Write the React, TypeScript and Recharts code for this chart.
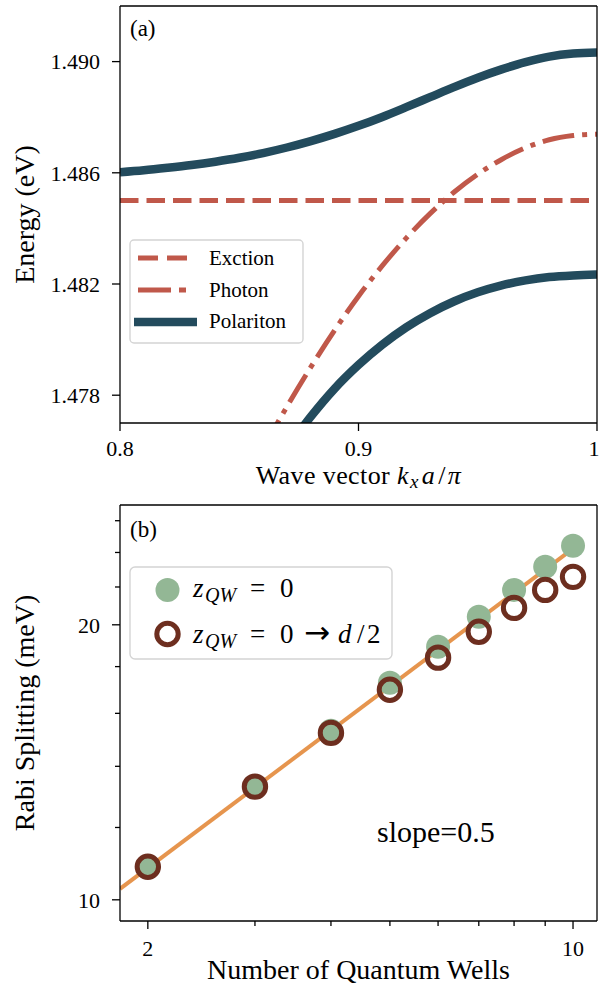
import { LineChart, ComposedChart, Line, Scatter, XAxis, YAxis, ReferenceLine, Customized } from 'recharts';

const FONT = '"Liberation Serif", "DejaVu Serif", serif';
const RED = '#c0584a';
const NAVY = '#234b5d';
const GREEN = '#93b795';
const BROWN = '#6d2e1f';
const ORANGE = '#e6954e';

// (a) band energies near the zone edge
const K = [0.8, 0.81, 0.82, 0.83, 0.84, 0.85, 0.86, 0.87, 0.88, 0.89, 0.9, 0.91, 0.92, 0.93, 0.94, 0.95, 0.96, 0.97, 0.98, 0.99, 1.0];
const EXCITON = [1.485, 1.485, 1.485, 1.485, 1.485, 1.485, 1.485, 1.485, 1.485, 1.485, 1.485, 1.485, 1.485, 1.485, 1.485, 1.485, 1.485, 1.485, 1.485, 1.485, 1.485];
const PHOTON = [null, null, null, null, null, null, 1.47609, 1.47759, 1.47901, 1.48034, 1.48156, 1.48266, 1.48365, 1.48453, 1.4853, 1.48595, 1.48648, 1.4869, 1.48719, 1.48734, 1.48739];
const UPPER = [1.48602, 1.48609, 1.48618, 1.48628, 1.4864, 1.48654, 1.48671, 1.48691, 1.48714, 1.4874, 1.48769, 1.48801, 1.48836, 1.48872, 1.48908, 1.48942, 1.48972, 1.48998, 1.49018, 1.49029, 1.49033];
const LOWER = [null, null, null, null, null, null, null, 1.47608, 1.47723, 1.47824, 1.47909, 1.47982, 1.48044, 1.48095, 1.48137, 1.4817, 1.48195, 1.48213, 1.48225, 1.48231, 1.48234];
const K_TICKS = [0.8, 0.9, 1];
const E_TICKS = [1.478, 1.482, 1.486, 1.49];

// (b) Rabi splitting vs number of wells
const N_WELLS = [2, 3, 4, 5, 6, 7, 8, 9, 10];
const SPLIT_CENTER = [10.87, 13.3, 15.31, 17.28, 18.92, 20.41, 21.84, 23.15, 24.41];
const SPLIT_SPREAD = [10.87, 13.3, 15.23, 16.98, 18.41, 19.65, 20.87, 21.84, 22.57];
const FIT_N = [1.8, 10];
const FIT_SPLIT = [10.28, 24.23];
const N_TICKS = [2, 3, 4, 5, 6, 7, 8, 9, 10];
const N_LABELED = [2, 10];
const S_TICKS = [10, 12, 14, 16, 18, 20, 22, 24, 26];
const S_LABELED = [10, 20];

const AXIS = { stroke: '#000', strokeWidth: 1.3 };

const xTickA = ({ x, y, payload }: any) => {
  const last = payload.value === 1;
  return (
    <g>
      <line x1={x} x2={x} y1={y} y2={y + 8} stroke="#000" strokeWidth={1.3} />
      {/* the last label sits on the page edge; nudge it in so it isn't clipped */}
      <text x={last ? x - 3 : x} y={y + 33} textAnchor="middle" fontFamily={FONT} fontSize={22} fill="#000">
        {last ? '1' : payload.value.toFixed(1)}
      </text>
    </g>
  );
};

const yTickA = ({ x, y, payload }: any) => (
  <g>
    <line x1={x - 8} x2={x} y1={y} y2={y} stroke="#000" strokeWidth={1.3} />
    <text x={x - 20} y={y} dy="0.35em" textAnchor="end" fontFamily={FONT} fontSize={22} fill="#000">
      {payload.value.toFixed(3)}
    </text>
  </g>
);

const xTickB = ({ x, y, payload }: any) => {
  const major = N_LABELED.includes(payload.value);
  return (
    <g>
      <line x1={x} x2={x} y1={y} y2={y + (major ? 8 : 5)} stroke="#000" strokeWidth={1.3} />
      {major && (
        <text x={x} y={y + 35} textAnchor="middle" fontFamily={FONT} fontSize={22} fill="#000">
          {payload.value}
        </text>
      )}
    </g>
  );
};

const yTickB = ({ x, y, payload }: any) => {
  const major = S_LABELED.includes(payload.value);
  return (
    <g>
      <line x1={x - (major ? 8 : 5)} x2={x} y1={y} y2={y} stroke="#000" strokeWidth={1.3} />
      {major && (
        <text x={x - 20} y={y} dy="0.35em" textAnchor="end" fontFamily={FONT} fontSize={22} fill="#000">
          {payload.value}
        </text>
      )}
    </g>
  );
};

const PanelAExtras = () => (
  <g fontFamily={FONT} fill="#000">
    <text x={130} y={36} fontSize={23}>(a)</text>
    <rect x={130} y={240} width={173} height={103} rx={4} fill="#fff" fillOpacity={0.85} stroke="#d4d4d4" strokeWidth={1.4} />
    <line x1={138} x2={187} y1={258} y2={258} stroke={RED} strokeWidth={5} strokeDasharray="20 9" />
    <line x1={138} x2={187} y1={290} y2={290} stroke={RED} strokeWidth={5} strokeDasharray="33 8 7 8" />
    <line x1={134} x2={197} y1={322} y2={322} stroke={NAVY} strokeWidth={8.5} />
    <text x={209} y={265} fontSize={21}>Exction</text>
    <text x={209} y={297} fontSize={21}>Photon</text>
    <text x={209} y={328} fontSize={21}>Polariton</text>
    <text x={358.5} y={484} textAnchor="middle" fontSize={26} letterSpacing={0.4}>
      Wave vector <tspan fontStyle="italic">k</tspan>
      <tspan fontStyle="italic" fontSize={19} dy={4} dx={1}>x</tspan>
      <tspan fontStyle="italic" dy={-4} dx={3}>a</tspan>
      <tspan dx={3}>/</tspan>
      <tspan fontStyle="italic" dx={2}>π</tspan>
    </text>
    <text transform="rotate(-90)" x={-214.5} y={34} textAnchor="middle" fontSize={28}>Energy (eV)</text>
  </g>
);

// panel (b) svg starts 495px down the page
const PanelBExtras = () => (
  <g fontFamily={FONT} fill="#000">
    <text x={130} y={42} fontSize={23}>(b)</text>
    <rect x={130} y={72} width={262} height={92} rx={5} fill="#fff" fillOpacity={0.85} stroke="#d4d4d4" strokeWidth={1.4} />
    <circle cx={167.5} cy={95} r={12} fill={GREEN} />
    <circle cx={167.5} cy={139} r={10.7} fill="none" stroke={BROWN} strokeWidth={5} />
    <text y={102} fontSize={27}>
      <tspan x={193} fontStyle="italic">z</tspan>
      <tspan x={205} fontStyle="italic" fontSize={20} dy={5}>QW</tspan>
      <tspan x={250} dy={-5}>=</tspan>
      <tspan x={280}>0</tspan>
    </text>
    <text y={148} fontSize={27}>
      <tspan x={193} fontStyle="italic">z</tspan>
      <tspan x={205} fontStyle="italic" fontSize={20} dy={5}>QW</tspan>
      <tspan x={250} dy={-5}>=</tspan>
      <tspan x={280}>0</tspan>
      <tspan x={304} fontFamily='"DejaVu Sans", sans-serif' fontSize={31}>→</tspan>
      <tspan x={338} fontStyle="italic">d</tspan>
      <tspan x={357}>/</tspan>
      <tspan x={367}>2</tspan>
    </text>
    <text x={377} y={347} fontSize={30}>slope=0.5</text>
    <text x={358.5} y={484} textAnchor="middle" fontSize={28}>Number of Quantum Wells</text>
    <text transform="rotate(-90)" x={-218} y={34} textAnchor="middle" fontSize={28}>Rabi Splitting (meV)</text>
  </g>
);

function PanelA() {
  const rows = K.map((k, i) => ({ k, exciton: EXCITON[i], photon: PHOTON[i], upper: UPPER[i], lower: LOWER[i] }));
  return (
    <LineChart width={600} height={495} data={rows} margin={{ top: 6, right: 3, left: 0, bottom: 0 }}>
      <XAxis
        dataKey="k"
        type="number"
        domain={[0.8, 1]}
        ticks={K_TICKS}
        interval={0}
        allowDataOverflow
        height={72}
        axisLine={AXIS}
        tickLine={false}
        tickSize={0}
        tickMargin={0}
        tick={xTickA}
      />
      <YAxis
        type="number"
        domain={[1.477, 1.492]}
        ticks={E_TICKS}
        interval={0}
        allowDataOverflow
        width={120}
        axisLine={AXIS}
        tickLine={false}
        tickSize={0}
        tickMargin={0}
        tick={yTickA}
      />
      <Line dataKey="exciton" type="linear" stroke={RED} strokeWidth={5} strokeDasharray="18.5 8" dot={false} isAnimationActive={false} />
      <Line dataKey="photon" type="monotone" stroke={RED} strokeWidth={5} strokeDasharray="32 8 5 8" dot={false} isAnimationActive={false} />
      <Line dataKey="upper" type="monotone" stroke={NAVY} strokeWidth={8.5} dot={false} isAnimationActive={false} />
      <Line dataKey="lower" type="monotone" stroke={NAVY} strokeWidth={8.5} dot={false} isAnimationActive={false} />
      <ReferenceLine y={1.492} stroke="#000" strokeWidth={1.3} ifOverflow="visible" />
      <ReferenceLine x={1} stroke="#000" strokeWidth={1.3} ifOverflow="visible" />
      <Customized component={PanelAExtras} />
    </LineChart>
  );
}

function PanelB() {
  const fit = FIT_N.map((n, i) => ({ n, v: FIT_SPLIT[i] }));
  const center = N_WELLS.map((n, i) => ({ n, v: SPLIT_CENTER[i] }));
  const spread = N_WELLS.map((n, i) => ({ n, v: SPLIT_SPREAD[i] }));
  return (
    <ComposedChart width={600} height={490} margin={{ top: 10, right: 3, left: 0, bottom: 0 }}>
      <XAxis
        dataKey="n"
        type="number"
        scale="log"
        domain={[1.8, 10.95]}
        ticks={N_TICKS}
        interval={0}
        allowDataOverflow
        height={64}
        axisLine={AXIS}
        tickLine={false}
        tickSize={0}
        tickMargin={0}
        tick={xTickB}
      />
      <YAxis
        dataKey="v"
        type="number"
        scale="log"
        domain={[9.48, 27.05]}
        ticks={S_TICKS}
        interval={0}
        allowDataOverflow
        width={120}
        axisLine={AXIS}
        tickLine={false}
        tickSize={0}
        tickMargin={0}
        tick={yTickB}
      />
      <Line data={fit} dataKey="v" type="linear" stroke={ORANGE} strokeWidth={4} dot={false} isAnimationActive={false} />
      <Scatter
        data={center}
        dataKey="v"
        isAnimationActive={false}
        shape={({ cx, cy }: any) => <circle cx={cx} cy={cy} r={12} fill={GREEN} />}
      />
      <Scatter
        data={spread}
        dataKey="v"
        isAnimationActive={false}
        shape={({ cx, cy }: any) => <circle cx={cx} cy={cy} r={10.7} fill="none" stroke={BROWN} strokeWidth={5} />}
      />
      <ReferenceLine y={27.05} stroke="#000" strokeWidth={1.3} ifOverflow="visible" />
      <ReferenceLine x={10.95} stroke="#000" strokeWidth={1.3} ifOverflow="visible" />
      <Customized component={PanelBExtras} />
    </ComposedChart>
  );
}

export default function App() {
  return (
    <div style={{ position: 'absolute', left: 0, top: 0, width: 600, height: 985, background: '#fff' }}>
      <PanelA />
      <PanelB />
    </div>
  );
}
